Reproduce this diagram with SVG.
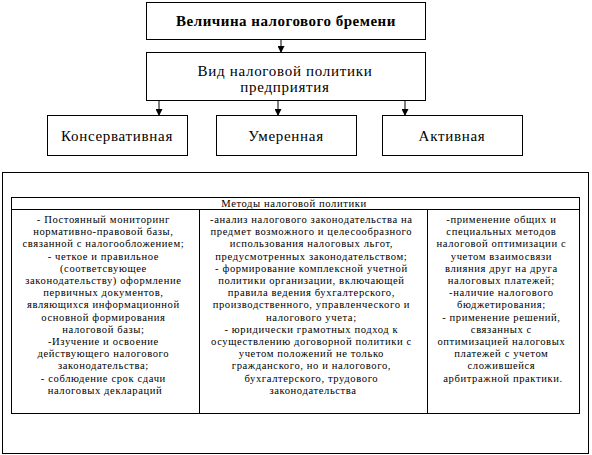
<svg xmlns="http://www.w3.org/2000/svg" width="592" height="455" viewBox="0 0 592 455">
<style>
.box{fill:#fff;stroke:#000;stroke-width:1}
.ln{stroke:#000;stroke-width:1;fill:none}
.t{font-family:"Liberation Serif","Times New Roman",serif;fill:#000;text-anchor:middle}
.big{font-size:15px;letter-spacing:0.7px}
.sm{font-size:10.6px;letter-spacing:0.6px}
</style>
<defs>
<marker id="ah" markerWidth="7" markerHeight="7" refX="6" refY="3.5" orient="auto" markerUnits="userSpaceOnUse">
<path d="M0,0 L7,3.5 L0,7 Z" fill="#000"/>
</marker>
</defs>
<rect width="592" height="455" fill="#fff"/>
<g id="connectors">
<line class="ln" x1="281" y1="39" x2="281" y2="52" marker-end="url(#ah)"/>
<line class="ln" x1="159" y1="100" x2="159" y2="115" marker-end="url(#ah)"/>
<line class="ln" x1="278" y1="100" x2="278" y2="115" marker-end="url(#ah)"/>
<line class="ln" x1="405" y1="100" x2="405" y2="115" marker-end="url(#ah)"/>
</g>
<g id="burden">
<rect class="box" x="146.5" y="2.5" width="279" height="37"/>
<text class="t" x="286" y="26" font-size="15" font-weight="bold" letter-spacing="0.5">Величина налогового бремени</text>
</g>
<g id="policy">
<rect class="box" x="146.5" y="52.5" width="279" height="48"/>
<text class="t big" x="285" y="76">Вид налоговой политики</text>
<text class="t big" x="285" y="92">предприятия</text>
</g>
<g id="conservative">
<rect class="box" x="47.5" y="115.5" width="140" height="40"/>
<text class="t big" x="117" y="141">Консервативная</text>
</g>
<g id="moderate">
<rect class="box" x="216.5" y="115.5" width="140" height="40"/>
<text class="t big" x="286" y="141">Умеренная</text>
</g>
<g id="active">
<rect class="box" x="382.5" y="115.5" width="140" height="40"/>
<text class="t big" x="452" y="141">Активная</text>
</g>
<g id="methods">
<rect class="box" x="2.5" y="172.5" width="586" height="281"/>
<rect class="box" x="11.5" y="197.5" width="568" height="216"/>
<line class="ln" x1="11.5" y1="209.5" x2="579.5" y2="209.5"/>
<line class="ln" x1="199.5" y1="209.5" x2="199.5" y2="413.5"/>
<line class="ln" x1="427.5" y1="209.5" x2="427.5" y2="413.5"/>
<text class="t sm" x="294" y="207">Методы налоговой политики</text>
<text class="t sm" x="105" y="223">
<tspan x="105" dy="0">- Постоянный мониторинг</tspan>
<tspan x="105" dy="12.2">нормативно-правовой базы,</tspan>
<tspan x="105" dy="12.2">связанной с налогообложением;</tspan>
<tspan x="105" dy="12.2">- четкое и правильное</tspan>
<tspan x="105" dy="12.2">(соответсвующее</tspan>
<tspan x="105" dy="12.2">законодательству) оформление</tspan>
<tspan x="105" dy="12.2">первичных документов,</tspan>
<tspan x="105" dy="12.2">являющихся информационной</tspan>
<tspan x="105" dy="12.2">основной формирования</tspan>
<tspan x="105" dy="12.2">налоговой базы;</tspan>
<tspan x="105" dy="12.2">-Изучение и освоение</tspan>
<tspan x="105" dy="12.2">действующего налогового</tspan>
<tspan x="105" dy="12.2">законодательства;</tspan>
<tspan x="105" dy="12.2">- соблюдение срок сдачи</tspan>
<tspan x="105" dy="12.2">налоговых деклараций</tspan>
</text>
<text class="t sm" x="313" y="223">
<tspan x="313" dy="0">-анализ налогового законодательства на</tspan>
<tspan x="313" dy="12.2">предмет возможного и целесообразного</tspan>
<tspan x="313" dy="12.2">использования налоговых льгот,</tspan>
<tspan x="313" dy="12.2">предусмотренных законодательством;</tspan>
<tspan x="313" dy="12.2">- формирование комплексной учетной</tspan>
<tspan x="313" dy="12.2">политики организации, включающей</tspan>
<tspan x="313" dy="12.2">правила ведения бухгалтерского,</tspan>
<tspan x="313" dy="12.2">производственного, управленческого и</tspan>
<tspan x="313" dy="12.2">налогового учета;</tspan>
<tspan x="313" dy="12.2">- юридически грамотных подход к</tspan>
<tspan x="313" dy="12.2">осуществлению договорной политики с</tspan>
<tspan x="313" dy="12.2">учетом положений не только</tspan>
<tspan x="313" dy="12.2">гражданского, но и налогового,</tspan>
<tspan x="313" dy="12.2">бухгалтерского, трудового</tspan>
<tspan x="313" dy="12.2">законодательства</tspan>
</text>
<text class="t sm" x="503" y="223">
<tspan x="503" dy="0">-применение общих и</tspan>
<tspan x="503" dy="12.2">специальных методов</tspan>
<tspan x="503" dy="12.2">налоговой оптимизации с</tspan>
<tspan x="503" dy="12.2">учетом взаимосвязи</tspan>
<tspan x="503" dy="12.2">влияния друг на друга</tspan>
<tspan x="503" dy="12.2">налоговых платежей;</tspan>
<tspan x="503" dy="12.2">-наличие налогового</tspan>
<tspan x="503" dy="12.2">бюджетирования;</tspan>
<tspan x="503" dy="12.2">- применение решений,</tspan>
<tspan x="503" dy="12.2">связанных с</tspan>
<tspan x="503" dy="12.2">оптимизацией налоговых</tspan>
<tspan x="503" dy="12.2">платежей с учетом</tspan>
<tspan x="503" dy="12.2">сложившейся</tspan>
<tspan x="503" dy="12.2">арбитражной практики.</tspan>
</text>
</g>
</svg>
